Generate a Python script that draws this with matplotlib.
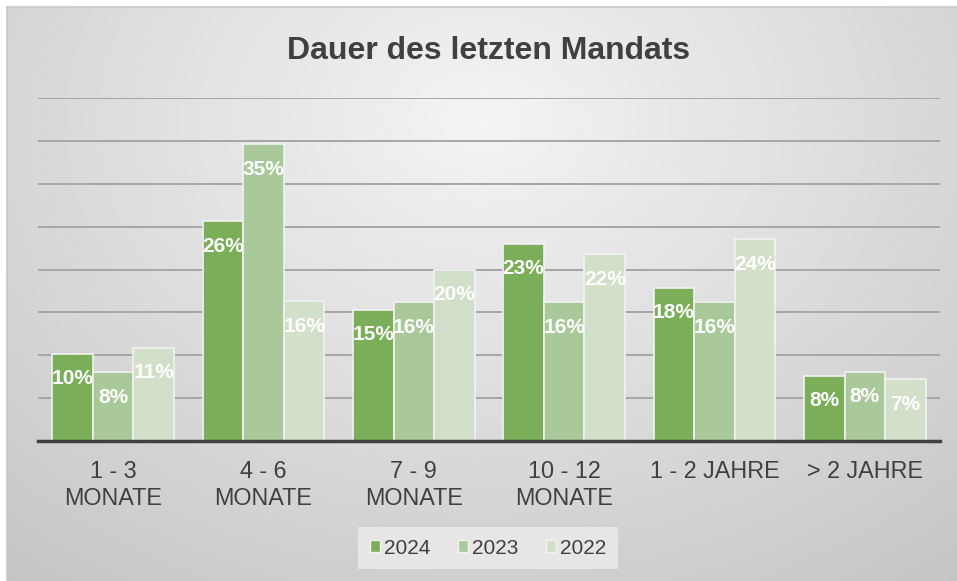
# Dauer des letzten Mandats - grouped bars 2024/2023/2022

import numpy as np
import matplotlib.pyplot as plt
from matplotlib.patches import Patch

categories = ['1 - 3\nMONATE', '4 - 6\nMONATE', '7 - 9\nMONATE',
              '10 - 12\nMONATE', '1 - 2 JAHRE', '> 2 JAHRE']
years = ['2024', '2023', '2022']
v2024 = [10.2, 25.6, 15.3, 23.0, 17.9, 7.6]
v2023 = [8.0, 34.6, 16.2, 16.2, 16.2, 8.1]
v2022 = [10.9, 16.3, 20.0, 21.8, 23.5, 7.2]
colors = ['#7aae58', '#a9c99a', '#d2e0c9']

plt.rcParams['font.family'] = ['Liberation Sans', 'DejaVu Sans']

fig = plt.figure(figsize=(9.57, 5.81), dpi=100)
fig.patch.set_facecolor('white')

# gradient background of the chart area
bg = fig.add_axes([7/957, 0, 950/957, 574/581])
yy, xx = np.mgrid[0:1:300j, 0:1:500j]
r = np.sqrt(((xx - 0.5) / 0.75)**2 + ((yy - 0.2) / 0.95)**2)
shade = 0.955 - 0.17 * np.clip(r, 0, 1.1)
bg.imshow(shade, cmap='gray', vmin=0, vmax=1, aspect='auto',
          extent=[0, 1, 0, 1], origin='upper')
bg.set_xticks([])
bg.set_yticks([])
for s in ['bottom', 'right']:
    bg.spines[s].set_visible(False)
for s in ['top', 'left']:
    bg.spines[s].set_color('#c8c8c8')
    bg.spines[s].set_linewidth(1.2)

ax = fig.add_axes([38/957, 1 - 441/581, 902/957, 343/581])
ax.patch.set_alpha(0)

x = np.arange(len(categories))
w = 0.27
for i, (vals, col) in enumerate(zip([v2024, v2023, v2022], colors)):
    pos = x + (i - 1) * w
    ax.bar(pos, vals, w, color=col, edgecolor='#f2f2f2', linewidth=1.2,
           zorder=3, label=years[i])
    for xp, v in zip(pos, vals):
        ax.annotate(f'{round(v)}%', (xp, v), xytext=(0, -18),
                    textcoords='offset points', ha='center', va='center',
                    color='white', fontsize=15, fontweight='bold', zorder=4)

ax.set_ylim(0, 40)
ax.set_xlim(-0.5, len(categories) - 0.5)
ax.set_yticks(np.arange(5, 41, 5))
ax.yaxis.grid(True, color='#a6a6a6', linewidth=1.4)
ax.set_axisbelow(True)
ax.tick_params(axis='y', length=0, labelleft=False)
ax.set_xticks(x)
ax.set_xticklabels(categories, fontsize=16.8, color='#404040', linespacing=1.2)
ax.tick_params(axis='x', length=0, pad=14)
for s in ['top', 'right', 'left']:
    ax.spines[s].set_visible(False)
ax.spines['bottom'].set_color('#404040')
ax.spines['bottom'].set_linewidth(2.5)
ax.spines['bottom'].set_zorder(5)

fig.text(489/957, 1 - 51/581, 'Dauer des letzten Mandats', ha='center',
         va='center', fontsize=23, fontweight='bold', color='#404040')

handles = [Patch(facecolor=c, edgecolor='#f2f2f2', label=y)
           for c, y in zip(colors, years)]
leg = fig.legend(handles=handles, loc='center', ncol=3,
                 bbox_to_anchor=(488/957, 1 - 548/581), fontsize=15,
                 frameon=True, facecolor='#e6e6e6', edgecolor='none',
                 framealpha=1, fancybox=False, handlelength=0.5,
                 handleheight=0.5, handletextpad=0.2, columnspacing=1.3,
                 borderpad=0.55)
for t in leg.get_texts():
    t.set_color('#404040')

plt.savefig('out.png', dpi=100)
